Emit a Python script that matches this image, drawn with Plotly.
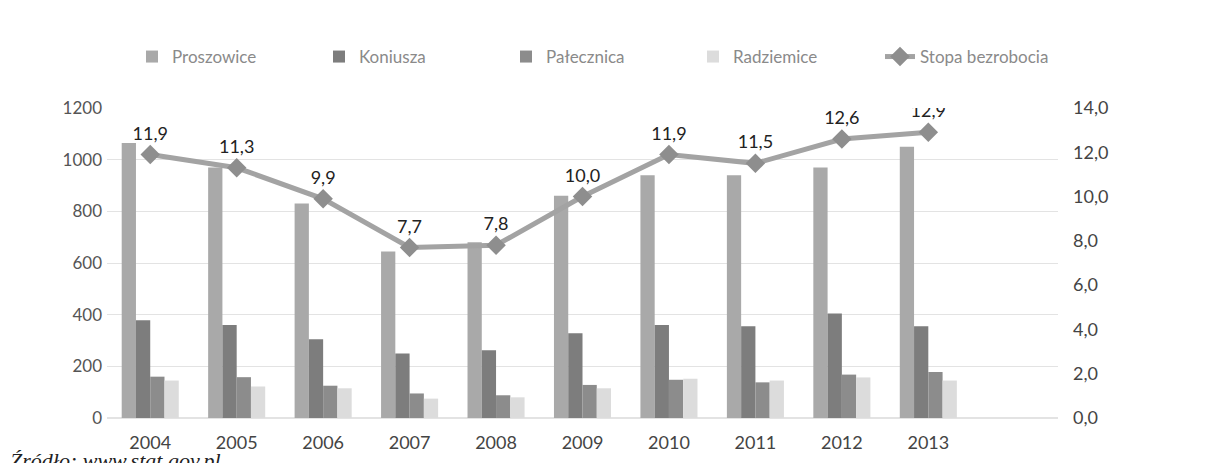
import plotly.graph_objects as go

years = ["2004", "2005", "2006", "2007", "2008", "2009", "2010", "2011", "2012", "2013"]
proszowice = [1065, 970, 830, 645, 680, 860, 940, 940, 970, 1050]
koniusza = [378, 360, 305, 250, 262, 328, 360, 355, 405, 355]
palecznica = [160, 158, 125, 95, 88, 128, 148, 138, 168, 178]
radziemice = [145, 122, 115, 75, 80, 115, 152, 145, 157, 145]
stopa = [11.9, 11.3, 9.9, 7.7, 7.8, 10.0, 11.9, 11.5, 12.6, 12.9]

font_main = "Lato, 'Open Sans', sans-serif"

fig = go.Figure()
bar_specs = [
    ("Proszowice", proszowice, "#a9a9a9"),
    ("Koniusza", koniusza, "#7d7d7d"),
    ("Pałecznica", palecznica, "#8c8c8c"),
    ("Radziemice", radziemice, "#dcdcdc"),
]
for name, vals, col in bar_specs:
    fig.add_trace(go.Bar(x=years, y=vals, name=name, marker=dict(color=col, line=dict(width=0))))

fig.add_trace(go.Scatter(
    x=years, y=stopa, name="Stopa bezrobocia", yaxis="y2",
    mode="lines+markers+text",
    line=dict(color="#a3a3a3", width=5),
    marker=dict(symbol="diamond", size=15, color="#8e8e8e"),
    texttemplate="%{y:.1f}", textposition="top center",
    textfont=dict(family=font_main, size=18, color="#222222"),
))

plot_left, plot_right, plot_top, plot_bottom = 99, 1050, 100, 410
pw = plot_right - plot_left
ph = plot_bottom - plot_top

fig.update_layout(
    width=1210, height=463,
    margin=dict(l=plot_left, r=1210 - plot_right, t=plot_top, b=463 - plot_bottom, pad=0),
    paper_bgcolor="white", plot_bgcolor="white",
    separators=", ",
    barmode="group", bargap=0.34, bargroupgap=0,
    font=dict(family=font_main, color="#555555"),
    xaxis=dict(
        type="category", range=[-0.5, 10.5], showgrid=False, showline=False, zeroline=False,
        ticks="", tickfont=dict(size=18, color="#444444"), ticklabelstandoff=12,
    ),
    yaxis=dict(
        range=[0, 1200], dtick=200, showgrid=True, gridcolor="#e3e3e3", gridwidth=1,
        zeroline=True, zerolinecolor="#e3e3e3", showline=False, ticks="",
        tickfont=dict(size=17, color="#555555"), ticklabelstandoff=4,
    ),
    yaxis2=dict(
        overlaying="y", side="right", range=[0, 14], dtick=2, tickformat=".1f",
        showgrid=False, zeroline=False, showline=False, ticks="",
        tickfont=dict(size=18, color="#444444"), ticklabelstandoff=14,
    ),
    legend=dict(
        orientation="h", x=(124 - plot_left) / pw, xanchor="left",
        y=1 + (plot_top - 49) / ph, yanchor="middle",
        entrywidth=142, entrywidthmode="pixels",
        font=dict(family=font_main, size=17, color="#8a8a8a"),
        bgcolor="rgba(0,0,0,0)", traceorder="normal",
    ),
    showlegend=True,
)

fig.add_annotation(
    text="<i>Źródło: www.stat.gov.pl</i>", xref="paper", yref="paper",
    x=-plot_left / pw, y=(plot_bottom - 438) / ph, xanchor="left", yanchor="top",
    showarrow=False, font=dict(family="'Liberation Serif', 'DejaVu Serif', serif", size=22, color="#222222"),
)

fig.write_html("out.html")
